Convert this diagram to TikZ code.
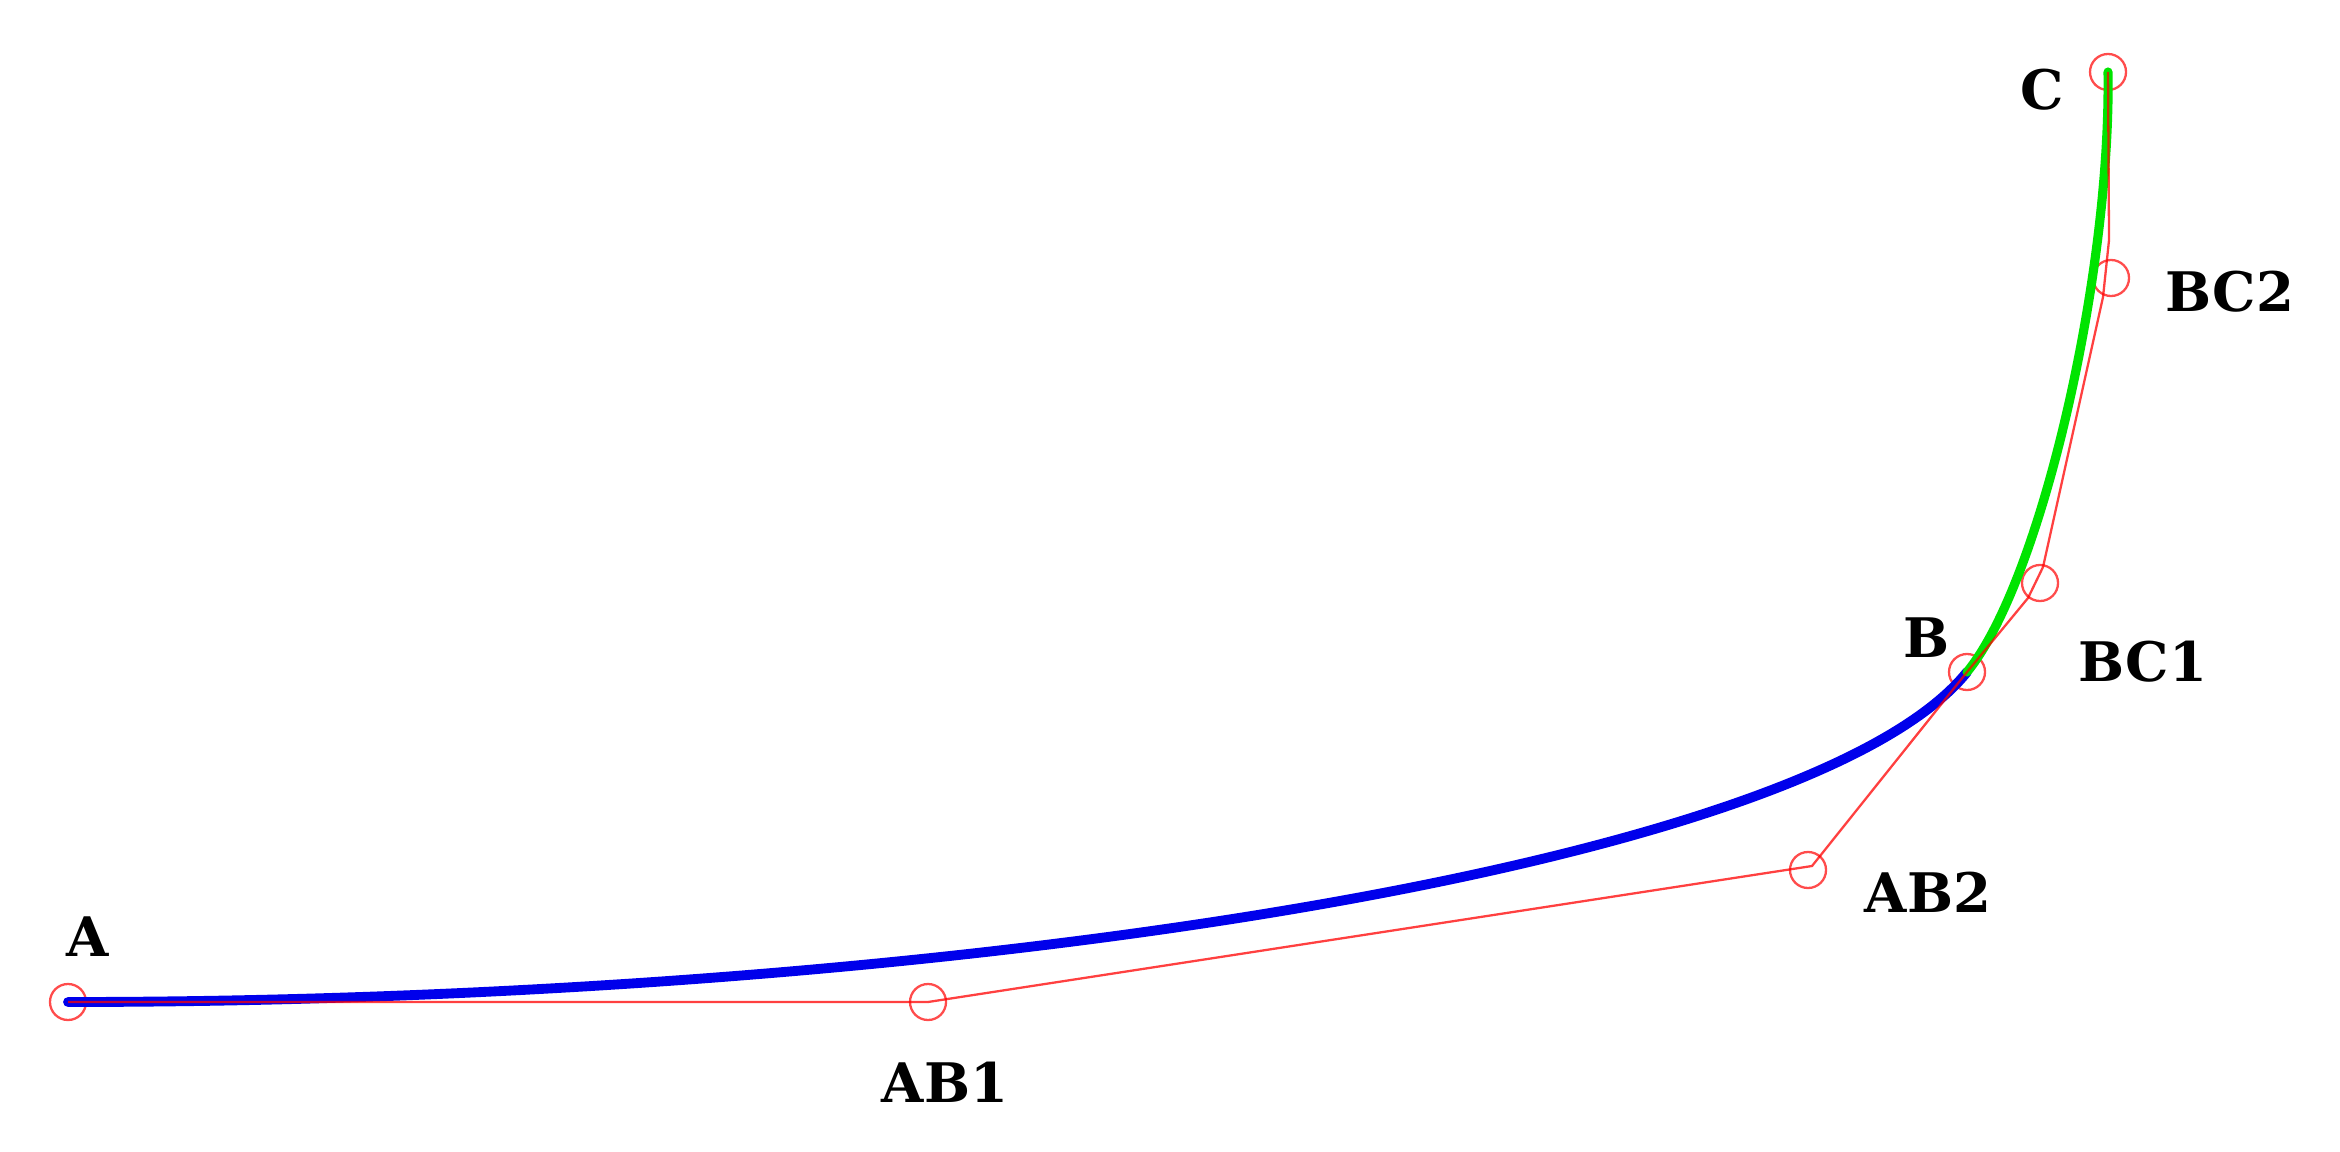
\documentclass[tikz,border=0pt]{standalone}
\usepackage{fontspec}
\setmainfont{DejaVu Serif}
\begin{document}
\begin{tikzpicture}[x=0.01cm,y=-0.01cm,
  ctrlpt/.style={circle,draw=red,draw opacity=0.7,line width=0.65pt,minimum size=0.36cm,inner sep=0pt},
  polyline/.style={draw=red,draw opacity=0.75,line width=0.65pt},
  lbl/.style={font=\bfseries\fontsize{15.5}{18}\selectfont,inner sep=0pt},
  bluecurve/.style={draw={rgb,255:red,0;green,0;blue,235},line width=2.8pt,line cap=round},
  greencurve/.style={draw={rgb,255:red,0;green,228;blue,0},line width=2.6pt,line cap=round}]
\useasboundingbox (0,0) rectangle (2340,1152);
\fill[white] (0,0) rectangle (2340,1152);
% control points
\node[ctrlpt] (A)   at (68,1002) {};
\node[ctrlpt] (AB1) at (928,1002) {};
\node[ctrlpt] (AB2) at (1808,870) {};
\node[ctrlpt] (B)   at (1967,672) {};
\node[ctrlpt] (BC1) at (2040,583) {};
\node[ctrlpt] (BC2) at (2111,278) {};
\node[ctrlpt] (C)   at (2108,72) {};
% polygon kink points
\coordinate (k1) at (1812,866);
\coordinate (k2) at (2028,598);
\coordinate (k3) at (2043,567);
\coordinate (k4) at (2103,297);
\coordinate (k5) at (2109,240);
% curves
\draw[bluecurve] (A.center) .. controls (AB1.center) and (AB2.center) .. (B.center);
\draw[greencurve] (B.center) .. controls (BC1.center) and (BC2.center) .. (C.center);
% control polygon
\draw[polyline] (A.center) -- (AB1.center) -- (k1) -- (B.center) -- (k2) -- (k3) -- (k4) -- (k5) -- (C.center);
% labels
\node[lbl] (tA)   at (88,937) {A};
\node[lbl] (tAB1) at (945,1082) {AB1};
\node[lbl] (tAB2) at (1928,892) {AB2};
\node[lbl] (tB)   at (1927,638) {B};
\node[lbl] (tBC1) at (2143,662) {BC1};
\node[lbl] (tBC2) at (2230,292) {BC2};
\node[lbl] (tC)   at (2042,90) {C};
\end{tikzpicture}
\end{document}
